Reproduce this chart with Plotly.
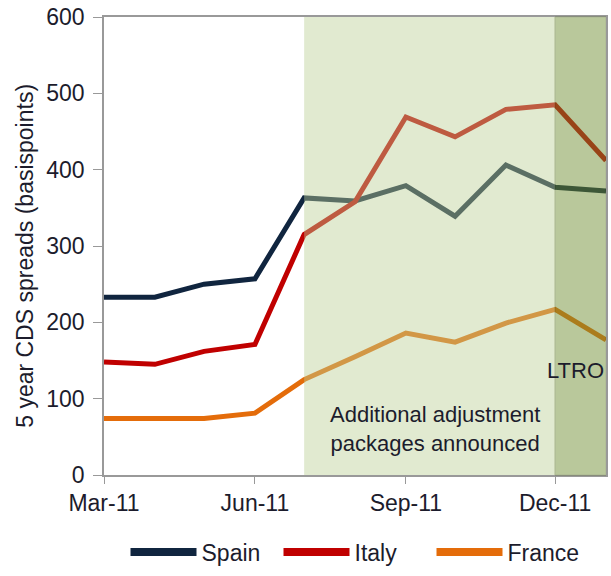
import plotly.graph_objects as go

# monthly 5y CDS spreads, basis points
months = ["2011-03-01", "2011-04-01", "2011-05-01", "2011-06-01", "2011-07-01", "2011-08-01",
          "2011-09-01", "2011-10-01", "2011-11-01", "2011-12-01", "2012-01-01"]
spain = [233, 233, 250, 257, 363, 359, 379, 339, 406, 377, 372]
italy = [148, 145, 162, 171, 315, 358, 469, 443, 479, 485, 412]
france = [74, 74, 74, 81, 125, 155, 186, 174, 199, 217, 177]

series = [("Spain", spain, "#10253F"), ("Italy", italy, "#C00000"), ("France", france, "#E46C0A")]

txt = "#1c1c2c"
font = "Liberation Sans, Arial, sans-serif"

fig = go.Figure()
for name, vals, col in series:
    fig.add_trace(go.Scatter(x=months, y=vals, name=name, mode="lines", showlegend=False,
                             line=dict(color=col, width=5)))
# legend entries get a thicker stroke, as in the original
for name, vals, col in series:
    fig.add_trace(go.Scatter(x=[None], y=[None], name=name, mode="lines",
                             line=dict(color=col, width=8)))

# shaded periods, drawn over the lines like the original
fig.add_shape(type="rect", xref="x", yref="paper", x0="2011-07-01", x1="2011-12-01", y0=0, y1=1,
              layer="above", fillcolor="rgb(187,207,148)", opacity=0.44, line_width=0)
fig.add_shape(type="rect", xref="x", yref="paper", x0="2011-12-01", x1="2012-01-01", y0=0, y1=1,
              layer="above", fillcolor="rgb(110,142,48)", opacity=0.48,
              line=dict(color="rgb(80,105,30)", width=1))

fig.add_annotation(text="Additional adjustment<br>packages announced", xref="paper", yref="paper",
                   x=0.659, y=0.1, xanchor="center", yanchor="middle", showarrow=False,
                   font=dict(size=22, color=txt, family=font))
fig.add_annotation(text="LTRO", xref="paper", yref="paper", x=1.0, y=0.229,
                   xanchor="right", yanchor="middle", showarrow=False,
                   font=dict(size=22, color=txt, family=font))
fig.add_annotation(text="5 year CDS spreads (basispoints)", xref="paper", yref="paper",
                   x=-0.159, y=0.479, xanchor="center", yanchor="middle", textangle=-90,
                   showarrow=False, font=dict(size=23, color=txt, family=font))

fig.update_layout(
    width=611, height=576,
    margin=dict(l=104, r=3, t=17, b=96),
    paper_bgcolor="white", plot_bgcolor="white",
    font=dict(family=font, size=23, color=txt),
    showlegend=True,
    legend=dict(orientation="h", x=0.5, xanchor="center", y=-0.168, yanchor="middle",
                itemwidth=66, entrywidth=72, font=dict(size=23, color=txt)),
    xaxis=dict(range=["2011-03-01", "2012-01-01"], tick0="2011-03-01", dtick="M3",
               tickformat="%b-%y", showgrid=False, zeroline=False,
               showline=True, linecolor="#999999", linewidth=1.5, mirror=True,
               ticks="outside", ticklen=7, tickcolor="#999999"),
    yaxis=dict(range=[0, 600], dtick=100, showgrid=False, zeroline=False,
               showline=True, linecolor="#999999", linewidth=1.5, mirror=True,
               ticks="outside", ticklen=9, tickcolor="#999999", ticklabelstandoff=4),
)

fig.write_html("out.html", config={"displayModeBar": False},
               post_script="document.body.style.margin='0';")
